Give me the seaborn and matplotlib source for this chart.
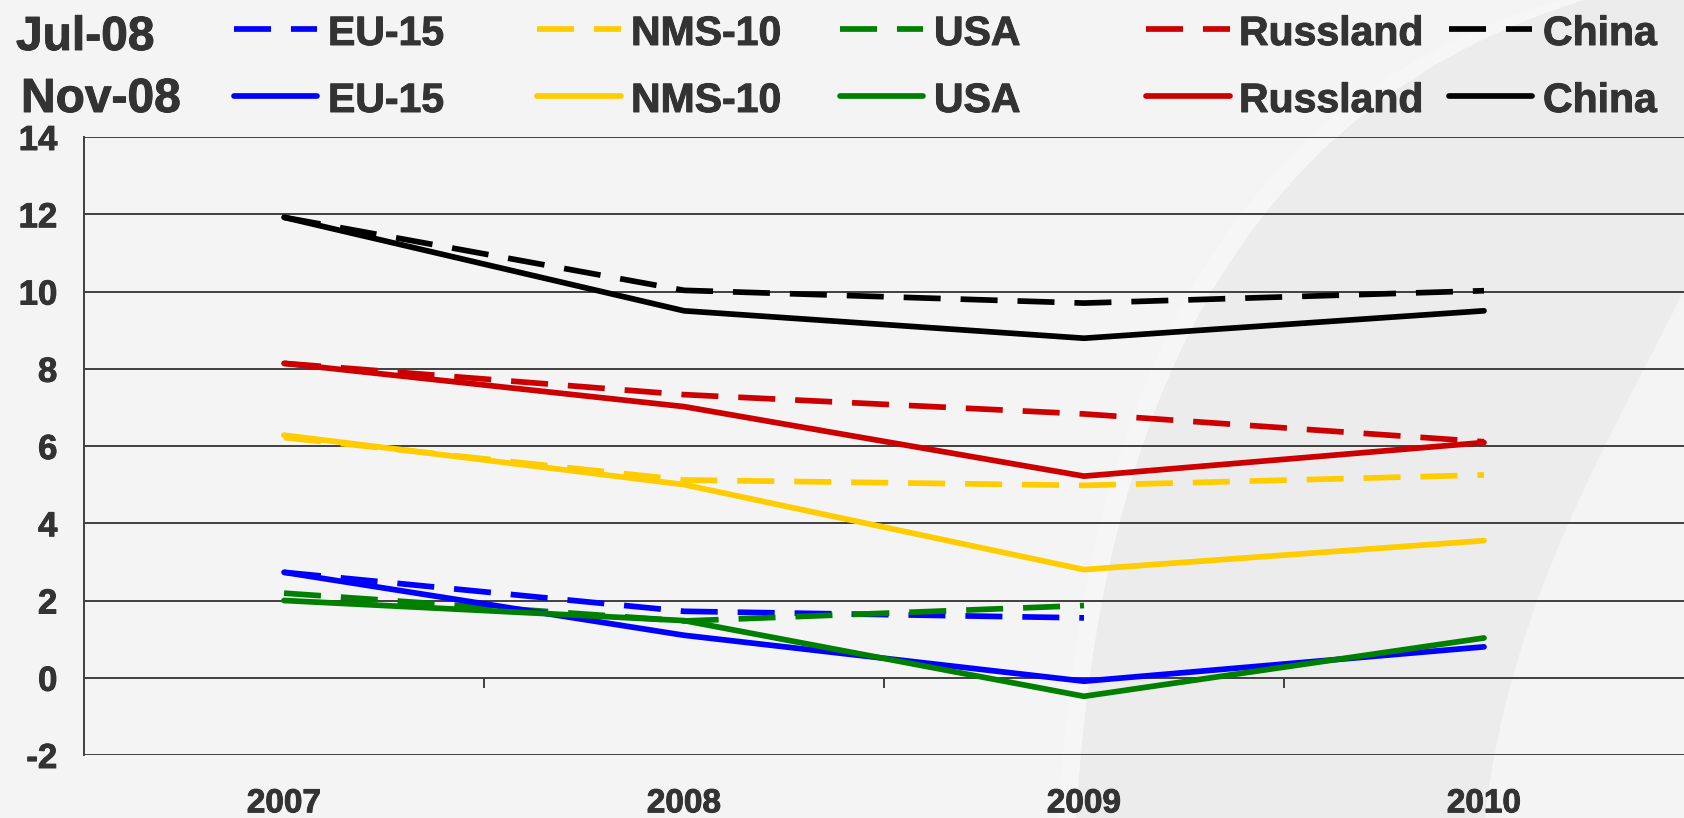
import numpy as np
import pandas as pd
import matplotlib
matplotlib.use("Agg")
import matplotlib.pyplot as plt
import matplotlib.patheffects as pe
import seaborn as sns
from matplotlib.lines import Line2D
from matplotlib.path import Path
from matplotlib.patches import PathPatch

# ---- data -------------------------------------------------------------
years = ["2007", "2008", "2009", "2010"]
regions = ["EU-15", "NMS-10", "USA", "Russland", "China"]
vintages = ["Jul-08", "Nov-08"]

# forecast of July 2008
jul_eu15 = [2.73, 1.72, 1.55, np.nan]
jul_nms10 = [6.22, 5.12, 4.98, 5.25]
jul_usa = [2.19, 1.47, 1.87, np.nan]
jul_russland = [8.14, 7.33, 6.83, 6.11]
jul_china = [11.92, 10.03, 9.70, 10.02]

# forecast of November 2008
nov_eu15 = [2.73, 1.10, -0.09, 0.80]
nov_nms10 = [6.28, 5.00, 2.80, 3.55]
nov_usa = [2.00, 1.48, -0.48, 1.03]
nov_russland = [8.14, 7.02, 5.22, 6.09]
nov_china = [11.92, 9.50, 8.79, 9.50]

colors = ["#0000FF", "#FFCC00", "#008000", "#CC0000", "#000000"]

series = {
    "Jul-08": [jul_eu15, jul_nms10, jul_usa, jul_russland, jul_china],
    "Nov-08": [nov_eu15, nov_nms10, nov_usa, nov_russland, nov_china],
}

rows = []
for vint, vals in series.items():
    for reg, v in zip(regions, vals):
        for i, y in enumerate(v):
            rows.append({"pos": i, "year": years[i], "region": reg,
                         "vintage": vint, "value": y})
df = pd.DataFrame(rows)

# ---- style ------------------------------------------------------------
W, H = 1684, 818
BG = "#f4f4f4"
TXT = "#333333"
GRID = "#404040"
LW = 4.1
DASH = (6.5, 3.5)
BOLDER = [pe.withStroke(linewidth=0.7, foreground=TXT)]

sns.set_style("white")
plt.rcParams["font.family"] = ["Liberation Sans", "DejaVu Sans"]
plt.rcParams["font.weight"] = "bold"
plt.rcParams["axes.unicode_minus"] = False

fig = plt.figure(figsize=(W / 100, H / 100), dpi=100, facecolor=BG)


def fx(x):
    return x / W


def fy(y):
    return 1 - y / H


# soft curved shading in the background
verts = [
    (fx(1076), fy(818)),
    (fx(1100), fy(420)), (fx(1230), fy(110)), (fx(1584), fy(0)),
    (fx(1684), fy(0)),
    (fx(1684), fy(290)),
    (fx(1610), fy(440)), (fx(1510), fy(600)), (fx(1485), fy(818)),
    (fx(1076), fy(818)),
]
codes = [Path.MOVETO, Path.CURVE4, Path.CURVE4, Path.CURVE4, Path.LINETO,
         Path.LINETO, Path.CURVE4, Path.CURVE4, Path.CURVE4, Path.CLOSEPOLY]
fig.patches.append(PathPatch(Path(verts, codes), facecolor="#ececec",
                             edgecolor="none", transform=fig.transFigure,
                             zorder=-2))

hl_verts = [
    (fx(1058), fy(818)),
    (fx(1082), fy(415)), (fx(1212), fy(100)), (fx(1560), fy(0)),
    (fx(1584), fy(0)),
    (fx(1230), fy(110)), (fx(1100), fy(420)), (fx(1076), fy(818)),
    (fx(1058), fy(818)),
]
hl_codes = [Path.MOVETO, Path.CURVE4, Path.CURVE4, Path.CURVE4, Path.LINETO,
            Path.CURVE4, Path.CURVE4, Path.CURVE4, Path.CLOSEPOLY]
fig.patches.append(PathPatch(Path(hl_verts, hl_codes), facecolor="#f6f6f6",
                             edgecolor="none", transform=fig.transFigure,
                             zorder=-1))

ax = fig.add_axes([84 / W, 1 - 755 / H, 1 - 84 / W, (755 - 137) / H])
ax.set_facecolor("none")

palette = dict(zip(regions, colors))

# July forecast (dashed) first, November forecast (solid) on top
sns.lineplot(data=df[df.vintage == "Jul-08"], x="pos", y="value",
             hue="region", hue_order=regions, palette=palette,
             style="vintage", dashes={"Jul-08": DASH}, linewidth=LW,
             legend=False, ax=ax, sort=False)
sns.lineplot(data=df[df.vintage == "Nov-08"], x="pos", y="value",
             hue="region", hue_order=regions, palette=palette,
             linewidth=LW, legend=False, ax=ax, sort=False)
for ln in ax.get_lines():
    ln.set_solid_capstyle("round")
    ln.set_dash_capstyle("butt")
    ln.set_linewidth(LW)

# ---- axes -------------------------------------------------------------
ax.set_xlim(-0.5, 3.5)
ax.set_ylim(-2, 14)
ax.set_yticks(range(-2, 15, 2))
ax.set_xticks(range(len(years)), years)
ax.set_xlabel("")
ax.set_ylabel("")

for s in ["top", "right", "bottom"]:
    ax.spines[s].set_visible(False)
ax.spines["left"].set_color(GRID)
ax.spines["left"].set_linewidth(1.4)

ax.grid(axis="y", color=GRID, linewidth=1.4)
ax.grid(axis="x", visible=False)
ax.set_axisbelow(True)

ax.tick_params(axis="y", direction="out", length=7.2, width=1.4, color=GRID,
               pad=12, labelsize=25, labelcolor=TXT)
ax.tick_params(axis="x", length=0, pad=24, labelsize=24, labelcolor=TXT)
for lab in ax.get_xticklabels() + ax.get_yticklabels():
    lab.set_fontweight("bold")
    lab.set_path_effects(BOLDER)

# category separators on the zero line
sec = ax.secondary_xaxis(2 / 16)
sec.set_xticks([0.5, 1.5, 2.5], ["", "", ""])
sec.tick_params(direction="out", length=7.2, width=1.4, color=GRID)
sec.spines["bottom"].set_visible(False)

# ---- legend -----------------------------------------------------------
row_line = {"Jul-08": 29, "Nov-08": 96}
row_base = {"Jul-08": 45, "Nov-08": 112}
head_x = {"Jul-08": 16, "Nov-08": 21}
head_base = {"Jul-08": 50, "Nov-08": 112}
line_x = [(234, 317), (537, 621), (840, 923), (1146, 1230), (1449, 1532)]
text_x = [328, 631, 934, 1239, 1543]

for vint in vintages:
    fig.text(fx(head_x[vint]), fy(head_base[vint]), vint, ha="left",
             va="baseline", fontsize=34.5, fontweight="bold", color=TXT,
             path_effects=BOLDER)
    for reg, col, (x0, x1), tx in zip(regions, colors, line_x, text_x):
        y = fy(row_line[vint])
        kw = dict(color=col, linewidth=LW, transform=fig.transFigure)
        if vint == "Jul-08":
            kw.update(dashes=DASH, dash_capstyle="butt")
        else:
            kw.update(solid_capstyle="round")
        fig.add_artist(Line2D([fx(x0), fx(x1)], [y, y], **kw))
        fig.text(fx(tx), fy(row_base[vint]), reg, ha="left", va="baseline",
                 fontsize=29.5, fontweight="bold", color=TXT,
                 path_effects=BOLDER)

fig.savefig("out.png", dpi=100, facecolor=BG)
